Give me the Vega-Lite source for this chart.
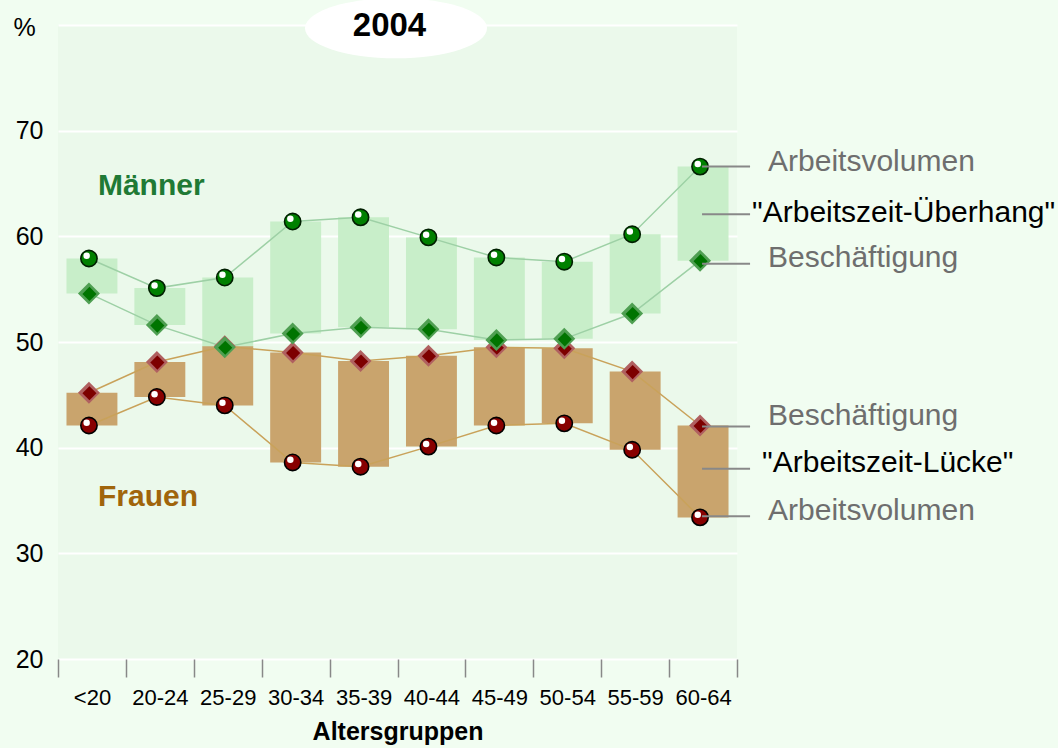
{
  "$schema": "https://vega.github.io/schema/vega-lite/v6.json",
  "width": 679,
  "height": 634,
  "autosize": {"type": "none"},
  "padding": {"left": 58, "top": 25, "right": 321, "bottom": 89},
  "background": "#f1fdf1",
  "config": {"view": {"fill": "#ebf9eb", "stroke": null}, "font": "Liberation Sans"},
  "datasets": {
    "main": [
      {"age": "<20", "m_av": 57.9, "m_b": 54.6, "f_b": 45.2, "f_av": 42.1},
      {"age": "20-24", "m_av": 55.1, "m_b": 51.6, "f_b": 48.1, "f_av": 44.8},
      {"age": "25-29", "m_av": 56.1, "m_b": 49.5, "f_b": 49.6, "f_av": 44.0},
      {"age": "30-34", "m_av": 61.4, "m_b": 50.8, "f_b": 49.0, "f_av": 38.6},
      {"age": "35-39", "m_av": 61.8, "m_b": 51.4, "f_b": 48.2, "f_av": 38.2},
      {"age": "40-44", "m_av": 59.9, "m_b": 51.2, "f_b": 48.7, "f_av": 40.1},
      {"age": "45-49", "m_av": 58.0, "m_b": 50.2, "f_b": 49.5, "f_av": 42.1},
      {"age": "50-54", "m_av": 57.6, "m_b": 50.3, "f_b": 49.4, "f_av": 42.3},
      {"age": "55-59", "m_av": 60.2, "m_b": 52.7, "f_b": 47.2, "f_av": 39.8},
      {"age": "60-64", "m_av": 66.6, "m_b": 57.7, "f_b": 42.1, "f_av": 33.4}
    ],
    "leaders": [
      {"age": "60-64", "y": 66.6},
      {"age": "60-64", "y": 62.1},
      {"age": "60-64", "y": 57.4},
      {"age": "60-64", "y": 42.0},
      {"age": "60-64", "y": 38.0},
      {"age": "60-64", "y": 33.5}
    ],
    "graynotes": [
      {"age": "60-64", "y": 66.2, "text": "Arbeitsvolumen"},
      {"age": "60-64", "y": 57.1, "text": "Beschäftigung"},
      {"age": "60-64", "y": 42.15, "text": "Beschäftigung"},
      {"age": "60-64", "y": 33.2, "text": "Arbeitsvolumen"}
    ],
    "ueberhang": [{"age": "60-64", "y": 61.4, "text": "\"Arbeitszeit-Überhang\""}],
    "luecke": [{"age": "60-64", "y": 37.65, "text": "\"Arbeitszeit-Lücke\""}],
    "maenner": [{"age": "<20", "y": 63.9, "text": "Männer"}],
    "frauen": [{"age": "<20", "y": 34.5, "text": "Frauen"}],
    "title": [{"age": "40-44", "y": 79.7, "ty": 79.0, "text": "2004"}]
  },
  "layer": [
    {
      "data": {"name": "main"},
      "mark": {"type": "bar", "color": "#c8eec9", "width": {"band": 0.75}},
      "encoding": {
        "x": {
          "field": "age", "type": "nominal", "sort": null,
          "scale": {"type": "band", "domain": ["<20","20-24","25-29","30-34","35-39","40-44","45-49","50-54","55-59","60-64"], "paddingInner": 0, "paddingOuter": 0},
          "axis": {
            "title": "Altersgruppen", "tickBand": "extent", "domain": false, "ticks": true,
            "tickColor": "#888888", "tickWidth": 1.5, "tickSize": 18,
            "labelFontSize": 22, "labelColor": "black", "labelAngle": 0,
            "labelBaseline": "alphabetic", "labelPadding": 27,
            "titleFontSize": 25, "titleFontWeight": "bold", "titleColor": "black",
            "titleBaseline": "alphabetic", "titleY": 80, "grid": false
          }
        },
        "y": {
          "field": "m_b", "type": "quantitative",
          "scale": {"domain": [20, 80], "nice": false, "zero": false},
          "axis": {
            "values": [20, 30, 40, 50, 60, 70, 80],
            "labelExpr": "datum.value == 80 ? '' : datum.label",
            "grid": true, "gridColor": "white", "gridWidth": 2, "gridOpacity": 1,
            "domain": false, "ticks": false, "labelFontSize": 25, "labelColor": "black",
            "labelPadding": 15, "title": "%", "titleAngle": 0, "titleAlign": "left",
            "titleBaseline": "alphabetic", "titleX": -45, "titleY": 10,
            "titleFontSize": 25, "titleFontWeight": "normal", "titleColor": "black"
          }
        },
        "y2": {"field": "m_av"}
      }
    },
    {
      "data": {"name": "main"},
      "mark": {"type": "bar", "color": "#c9a46d", "width": {"band": 0.75}},
      "encoding": {
        "x": {"field": "age", "type": "nominal", "sort": null},
        "y": {"field": "f_av", "type": "quantitative"},
        "y2": {"field": "f_b"}
      }
    },
    {
      "data": {"name": "main"},
      "mark": {"type": "line", "color": "#9dd0a5", "strokeWidth": 1.5, "xOffset": -3},
      "encoding": {"x": {"field": "age", "type": "nominal", "sort": null}, "y": {"field": "m_av", "type": "quantitative"}, "order": {"value": null}}
    },
    {
      "data": {"name": "main"},
      "mark": {"type": "line", "color": "#9dd0a5", "strokeWidth": 1.5, "xOffset": -3},
      "encoding": {"x": {"field": "age", "type": "nominal", "sort": null}, "y": {"field": "m_b", "type": "quantitative"}, "order": {"value": null}}
    },
    {
      "data": {"name": "main"},
      "mark": {"type": "line", "color": "#c9a25a", "strokeWidth": 1.5, "xOffset": -3},
      "encoding": {"x": {"field": "age", "type": "nominal", "sort": null}, "y": {"field": "f_b", "type": "quantitative"}, "order": {"value": null}}
    },
    {
      "data": {"name": "main"},
      "mark": {"type": "line", "color": "#c9a25a", "strokeWidth": 1.5, "xOffset": -3},
      "encoding": {"x": {"field": "age", "type": "nominal", "sort": null}, "y": {"field": "f_av", "type": "quantitative"}, "order": {"value": null}}
    },
    {
      "data": {"name": "main"},
      "mark": {"type": "point", "shape": "diamond", "filled": true, "color": "#b06060", "size": 484, "opacity": 1, "xOffset": -3},
      "encoding": {"x": {"field": "age", "type": "nominal", "sort": null}, "y": {"field": "f_b", "type": "quantitative"}}
    },
    {
      "data": {"name": "main"},
      "mark": {"type": "point", "shape": "diamond", "filled": true, "color": "#7d0000", "size": 200, "opacity": 1, "xOffset": -2.5, "yOffset": 0.5},
      "encoding": {"x": {"field": "age", "type": "nominal", "sort": null}, "y": {"field": "f_b", "type": "quantitative"}}
    },
    {
      "data": {"name": "main"},
      "mark": {"type": "point", "shape": "circle", "filled": true, "fill": "#880000", "stroke": "#000000", "strokeWidth": 1.6, "size": 265, "opacity": 1, "xOffset": -3},
      "encoding": {"x": {"field": "age", "type": "nominal", "sort": null}, "y": {"field": "f_av", "type": "quantitative"}}
    },
    {
      "data": {"name": "main"},
      "mark": {"type": "point", "shape": "circle", "filled": true, "color": "white", "size": 42, "opacity": 1, "xOffset": -5.3, "yOffset": -2.7},
      "encoding": {"x": {"field": "age", "type": "nominal", "sort": null}, "y": {"field": "f_av", "type": "quantitative"}}
    },
    {
      "data": {"name": "main"},
      "mark": {"type": "point", "shape": "diamond", "filled": true, "color": "#4f9f52", "size": 484, "opacity": 1, "xOffset": -3},
      "encoding": {"x": {"field": "age", "type": "nominal", "sort": null}, "y": {"field": "m_b", "type": "quantitative"}}
    },
    {
      "data": {"name": "main"},
      "mark": {"type": "point", "shape": "diamond", "filled": true, "color": "#007400", "size": 200, "opacity": 1, "xOffset": -2.5, "yOffset": 0.5},
      "encoding": {"x": {"field": "age", "type": "nominal", "sort": null}, "y": {"field": "m_b", "type": "quantitative"}}
    },
    {
      "data": {"name": "main"},
      "mark": {"type": "point", "shape": "circle", "filled": true, "fill": "#008000", "stroke": "#001f00", "strokeWidth": 1.6, "size": 265, "opacity": 1, "xOffset": -3},
      "encoding": {"x": {"field": "age", "type": "nominal", "sort": null}, "y": {"field": "m_av", "type": "quantitative"}}
    },
    {
      "data": {"name": "main"},
      "mark": {"type": "point", "shape": "circle", "filled": true, "color": "white", "size": 42, "opacity": 1, "xOffset": -5.3, "yOffset": -2.7},
      "encoding": {"x": {"field": "age", "type": "nominal", "sort": null}, "y": {"field": "m_av", "type": "quantitative"}}
    },
    {
      "data": {"name": "leaders"},
      "mark": {"type": "rule", "color": "#888888", "strokeWidth": 2, "xOffset": -1, "x2Offset": 47},
      "encoding": {
        "x": {"field": "age", "type": "nominal", "bandPosition": 0.5},
        "x2": {"field": "age", "bandPosition": 0.5},
        "y": {"field": "y", "type": "quantitative"}
      }
    },
    {
      "data": {"name": "graynotes"},
      "mark": {"type": "text", "align": "left", "baseline": "alphabetic", "fontSize": 30, "color": "#6e6e6e", "dx": 65},
      "encoding": {"x": {"field": "age", "type": "nominal"}, "y": {"field": "y", "type": "quantitative"}, "text": {"field": "text"}}
    },
    {
      "data": {"name": "ueberhang"},
      "mark": {"type": "text", "align": "left", "baseline": "alphabetic", "fontSize": 30, "color": "black", "dx": 49},
      "encoding": {"x": {"field": "age", "type": "nominal"}, "y": {"field": "y", "type": "quantitative"}, "text": {"field": "text"}}
    },
    {
      "data": {"name": "luecke"},
      "mark": {"type": "text", "align": "left", "baseline": "alphabetic", "fontSize": 30, "color": "black", "dx": 59},
      "encoding": {"x": {"field": "age", "type": "nominal"}, "y": {"field": "y", "type": "quantitative"}, "text": {"field": "text"}}
    },
    {
      "data": {"name": "maenner"},
      "mark": {"type": "text", "align": "left", "baseline": "alphabetic", "fontSize": 30, "fontWeight": "bold", "color": "#1f7a35", "dx": 6},
      "encoding": {"x": {"field": "age", "type": "nominal"}, "y": {"field": "y", "type": "quantitative"}, "text": {"field": "text"}}
    },
    {
      "data": {"name": "frauen"},
      "mark": {"type": "text", "align": "left", "baseline": "alphabetic", "fontSize": 30, "fontWeight": "bold", "color": "#a0650b", "dx": 6},
      "encoding": {"x": {"field": "age", "type": "nominal"}, "y": {"field": "y", "type": "quantitative"}, "text": {"field": "text"}}
    },
    {
      "data": {"name": "title"},
      "mark": {"type": "point", "shape": "M-1,0A1,0.33,0,1,0,1,0A1,0.33,0,1,0,-1,0Z", "filled": true, "color": "white", "size": 33124, "opacity": 1, "xOffset": -1.5},
      "encoding": {"x": {"field": "age", "type": "nominal", "bandPosition": 0}, "y": {"field": "y", "type": "quantitative"}}
    },
    {
      "data": {"name": "title"},
      "mark": {"type": "text", "align": "center", "baseline": "alphabetic", "fontSize": 33, "fontWeight": "bold", "color": "black", "dx": -8},
      "encoding": {"x": {"field": "age", "type": "nominal", "bandPosition": 0}, "y": {"field": "ty", "type": "quantitative"}, "text": {"field": "text"}}
    }
  ]
}
